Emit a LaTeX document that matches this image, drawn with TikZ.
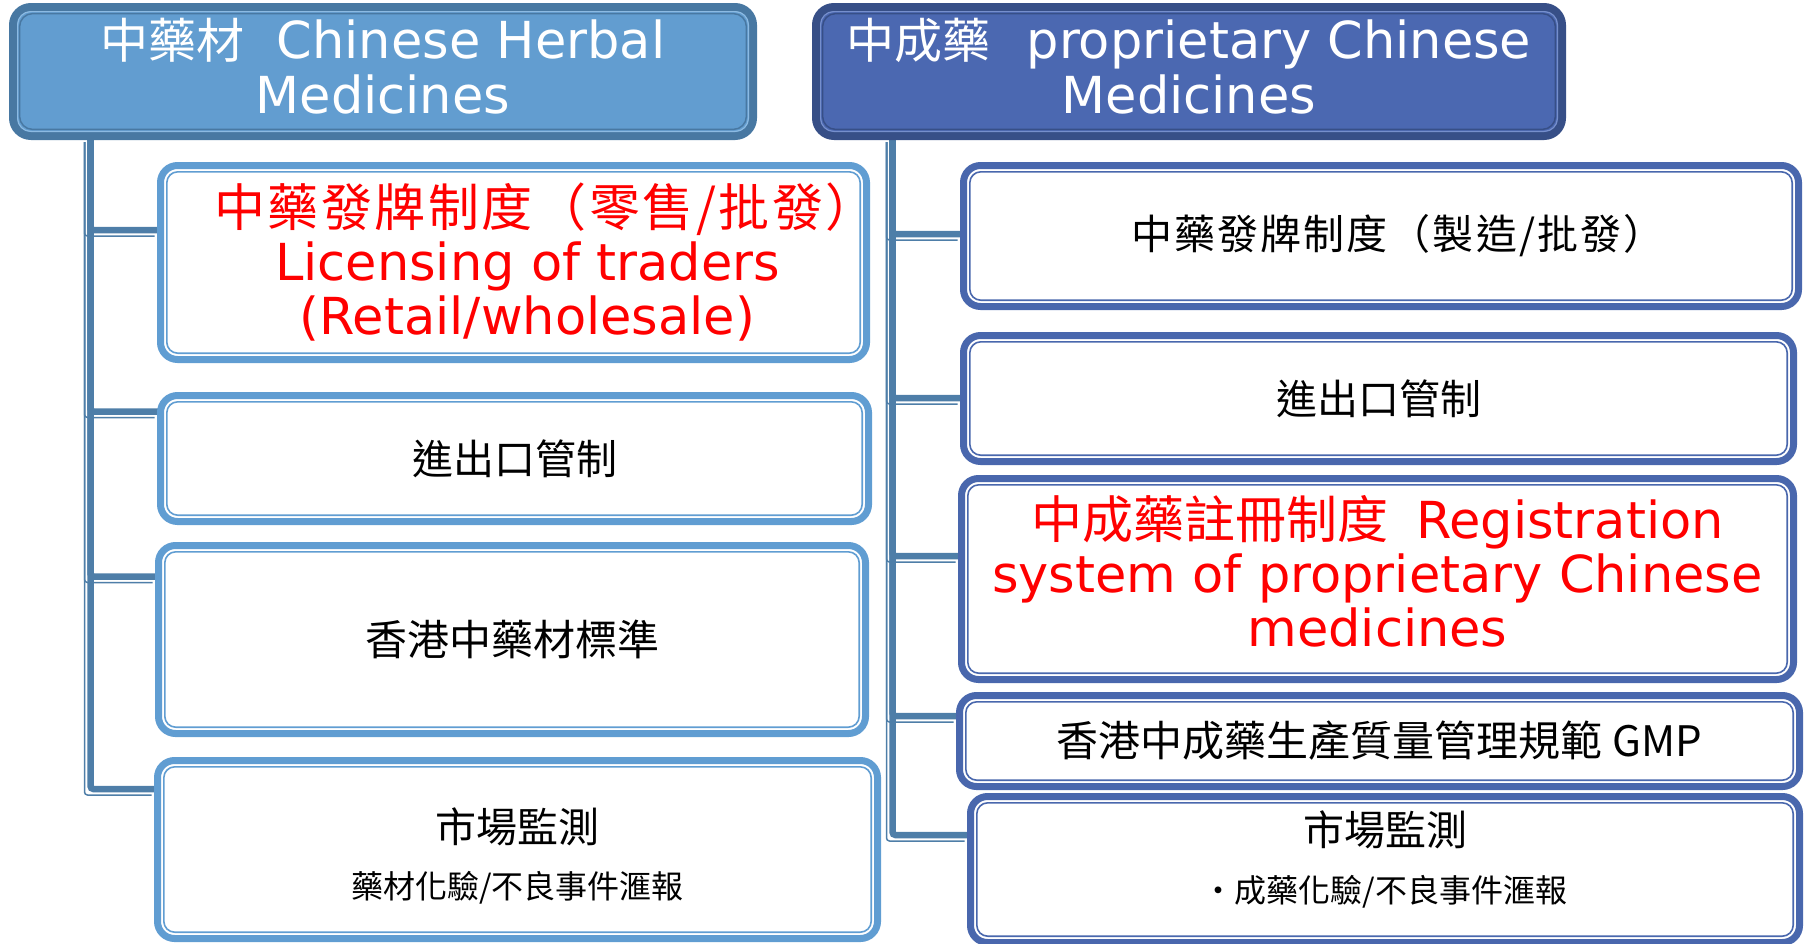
\documentclass[tikz,border=0pt]{standalone}
\usepackage{fontspec}
\setmainfont{DejaVu Sans}
\newfontfamily\cjk{Noto Sans CJK TC}
\newcommand\zh[1]{{\cjk #1}}
\newcommand\zhsp[1]{{\cjk\addfontfeature{LetterSpace=5}#1}}
\usetikzlibrary{backgrounds}
\definecolor{hlfill}{RGB}{98,157,208}
\definecolor{hlbord}{RGB}{72,120,162}
\definecolor{hllight}{RGB}{140,186,226}
\definecolor{hrfill}{RGB}{75,104,177}
\definecolor{hrbord}{RGB}{55,79,135}
\definecolor{hrlight}{RGB}{118,143,204}
\definecolor{connc}{RGB}{78,126,168}
\definecolor{lboxc}{RGB}{96,157,210}
\definecolor{rboxc}{RGB}{73,103,173}
\newcommand\innerline[3]{\draw[#2,line width=#3,rounded corners=11pt] ([xshift=6.3pt,yshift=-6.3pt]#1.north west) rectangle ([xshift=-6.3pt,yshift=6.3pt]#1.south east);}
\newcommand\hdrline[4]{\draw[#2,line width=#3,rounded corners=13pt] ([xshift=#4,yshift=-#4]#1.north west) rectangle ([xshift=-#4,yshift=#4]#1.south east);}
\begin{document}
\begin{tikzpicture}[x=1pt,y=-1pt,
  hdr/.style={rounded corners=18pt, line width=8pt, outer sep=0pt, inner sep=0pt, align=center, text=white, font=\fontsize{51}{55}\selectfont},
  boxbase/.style={fill=white, line width=7pt, rounded corners=17pt, outer sep=0pt, inner sep=0pt, align=center},
  lbox/.style={boxbase, draw=lboxc},
  rbox/.style={boxbase, draw=rboxc},
  conn/.style={draw=connc, line width=6.5pt, rounded corners=3pt},
  connsh/.style={draw=connc, line width=1.5pt, rounded corners=3pt},
  redtxt/.style={text=red, font=\fontsize{51}{54}\selectfont},
  blk/.style={text=black, font=\fontsize{41}{41}\selectfont\cjk},
]
\useasboundingbox (0,0) rectangle (1808,943);

% headers
\node[hdr, fill=hlfill, draw=hlbord, minimum width=740pt, minimum height=129pt] (hl) at (383,71.5)
  {\zh{\fontsize{48}{55}\selectfont 中藥材}\hspace{32pt}Chinese Herbal\\Medicines\rule[-12pt]{0pt}{0pt}};
\hdrline{hl}{hllight}{1.2pt}{4.6pt}
\hdrline{hl}{hlbord}{1.5pt}{6.6pt}
\node[hdr, fill=hrfill, draw=hrbord, minimum width=746pt, minimum height=129pt] (hr) at (1189,71.5)
  {\zh{\fontsize{48}{55}\selectfont 中成藥}\hspace{36pt}proprietary Chinese\\Medicines\rule[-12pt]{0pt}{0pt}};
\hdrline{hr}{hrlight}{1.2pt}{4.6pt}
\hdrline{hr}{hrbord}{1.5pt}{6.6pt}

% left boxes
\node[lbox, redtxt, minimum width=706pt, minimum height=194pt] (l1) at (513.5,262.5)
  {\makebox[600pt]{\hspace*{64pt}\zhsp{中藥發牌制度（零售/批發）}}\\\hspace*{28pt}Licensing of traders\\\hspace*{28pt}(Retail/wholesale)};
\innerline{l1}{lboxc}{1.6pt}
\node[lbox, blk, minimum width=708pt, minimum height=126pt] (l2) at (514.5,458.5) {進出口管制};
\innerline{l2}{lboxc}{1.6pt}
\node[lbox, blk, minimum width=707pt, minimum height=188pt] (l3) at (512,639.5) {\fontsize{42}{42}\selectfont 香港中藥材標準};
\innerline{l3}{lboxc}{1.6pt}
\node[lbox, blk, minimum width=720pt, minimum height=178pt] (l4) at (517.5,849.5)
  {\rule{0pt}{47pt}市場監測\\[15pt]{\fontsize{32}{32}\selectfont 藥材化驗/不良事件滙報}};
\innerline{l4}{lboxc}{1.6pt}

% right boxes
\node[rbox, blk, minimum width=835pt, minimum height=141pt] (r1) at (1381,236)
  {\hspace*{34pt}\zhsp{中藥發牌制度（製造/批發）}};
\innerline{r1}{rboxc}{1.6pt}
\node[rbox, blk, minimum width=830pt, minimum height=126pt] (r2) at (1378.5,398.5) {進出口管制};
\innerline{r2}{rboxc}{1.6pt}
\node[rbox, redtxt, minimum width=832pt, minimum height=201pt] (r3) at (1377.5,579)
  {\zh{中成藥註冊制度}\hspace{28pt}Registration\\system of proprietary Chinese\\medicines\rule[-16pt]{0pt}{0pt}};
\innerline{r3}{rboxc}{1.6pt}
\node[rbox, blk, minimum width=840pt, minimum height=91pt] (r4) at (1379.5,741)
  {\fontsize{42}{42}\selectfont 香港中成藥生產質量管理規範 GMP};
\innerline{r4}{rboxc}{1.6pt}
\node[rbox, blk, minimum width=829pt, minimum height=146pt] (r5) at (1385,869.5)
  {市場監測\\[16pt]{\fontsize{32}{32}\selectfont ・成藥化驗/不良事件滙報}\rule[-26pt]{0pt}{0pt}};
\innerline{r5}{rboxc}{1.6pt}

% connector coordinates
\coordinate (tl) at (90.5,0);
\coordinate (tr) at (892.5,0);
\coordinate (jl1) at (0,230);
\coordinate (jl2) at (0,411.5);
\coordinate (jl3) at (0,576.5);
\coordinate (jl4) at (0,789);
\coordinate (jr1) at (0,234);
\coordinate (jr2) at (0,398);
\coordinate (jr3) at (0,556);
\coordinate (jr4) at (0,716);
\coordinate (jr5) at (0,835);

\begin{pgfonlayer}{background}
  \begin{scope}[transform canvas={xshift=-6pt,yshift=-6pt}]
    \draw[connsh] (hl.south -| tl) |- (l1.west |- jl1);
    \draw[connsh] (hl.south -| tl) |- (l2.west |- jl2);
    \draw[connsh] (hl.south -| tl) |- (l3.west |- jl3);
    \draw[connsh] (hl.south -| tl) |- (l4.west |- jl4);
    \draw[connsh] (hr.south -| tr) |- (r1.west |- jr1);
    \draw[connsh] (hr.south -| tr) |- (r2.west |- jr2);
    \draw[connsh] (hr.south -| tr) |- (r3.west |- jr3);
    \draw[connsh] (hr.south -| tr) |- (r4.west |- jr4);
    \draw[connsh] (hr.south -| tr) |- (r5.west |- jr5);
  \end{scope}
  \draw[conn] (hl.south -| tl) |- (l1.west |- jl1);
  \draw[conn] (hl.south -| tl) |- (l2.west |- jl2);
  \draw[conn] (hl.south -| tl) |- (l3.west |- jl3);
  \draw[conn] (hl.south -| tl) |- (l4.west |- jl4);
  \draw[conn] (hr.south -| tr) |- (r1.west |- jr1);
  \draw[conn] (hr.south -| tr) |- (r2.west |- jr2);
  \draw[conn] (hr.south -| tr) |- (r3.west |- jr3);
  \draw[conn] (hr.south -| tr) |- (r4.west |- jr4);
  \draw[conn] (hr.south -| tr) |- (r5.west |- jr5);
\end{pgfonlayer}
\end{tikzpicture}
\end{document}
